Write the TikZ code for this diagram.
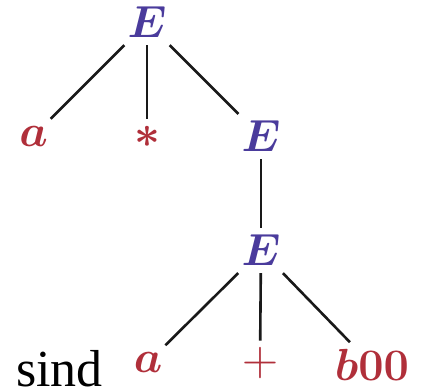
\RequirePackage{fix-cm}
\documentclass[tikz,border=0pt]{standalone}
\usepackage{amsmath}
\usepackage{fontspec}
\newfontfamily\sindfont{Liberation Serif}
\usetikzlibrary{positioning}
\definecolor{ntblue}{HTML}{4A3B9C}
\definecolor{tred}{HTML}{B02F3A}

\begin{document}
\begin{tikzpicture}[
    x=1pt, y=-1pt,
    sym/.style={inner sep=7pt, font=\fontsize{45}{50}\selectfont},
    nonterm/.style={sym, text=ntblue},
    term/.style={sym, text=tred},
    edge/.style={line width=2.6pt, draw=black!90},
]
\useasboundingbox (0,0) rectangle (424,388);
% E -> a * E
\node[nonterm] (e1)   at (147,22.5) {$\boldsymbol{E}$};
\node[term]    (a1)   at (33.5,136) {$\boldsymbol{a}$};
\node[term]    (star) at (147,137)  {$\boldsymbol{*}$};
\node[nonterm] (e2)   at (261,136.5) {$\boldsymbol{E}$};
\draw[edge] (e1) -- (a1);
\draw[edge] (e1) -- (star);
\draw[edge] (e1) -- (e2);
% E -> E
\node[nonterm] (e3)   at (261,250.5) {$\boldsymbol{E}$};
\draw[edge] (e2) -- (e3);
% E -> a + b00
\node[term]    (a2)   at (148,362.5) {$\boldsymbol{a}$};
\node[term, font=\fontsize{50}{55}\selectfont] (plus) at (260,363.5) {$+$};
\node[term]    (b00)  at (372,365)  {$\boldsymbol{b00}$};
\draw[edge] (e3) -- (a2);
\draw[edge] (e3) -- (plus);
\draw[edge] (e3) -- (b00);
% text line below
\node[anchor=base west, inner sep=0pt, font=\sindfont\fontsize{52}{56}\selectfont] (sind) at (16,386) {sind};
\end{tikzpicture}
\end{document}
